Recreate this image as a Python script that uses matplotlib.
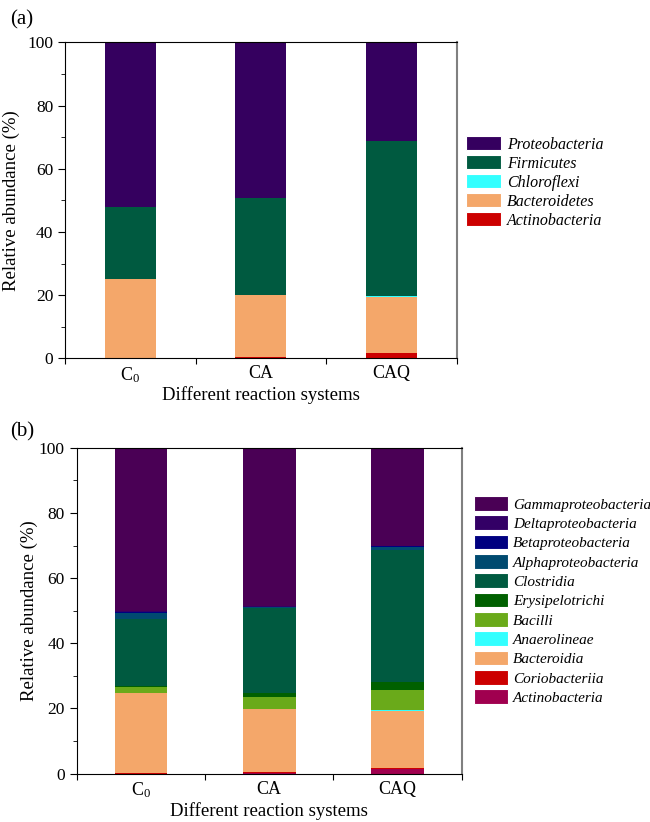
import matplotlib
matplotlib.use("Agg")
import matplotlib.pyplot as plt
from matplotlib.patches import Patch
import numpy as np

plt.rcParams['font.family'] = ['Liberation Serif', 'DejaVu Serif']
plt.rcParams['mathtext.fontset'] = 'custom'
plt.rcParams['mathtext.rm'] = 'Liberation Serif'
plt.rcParams['mathtext.it'] = 'Liberation Serif:italic'

systems = ["C$_0$", "CA", "CAQ"]

# Panel (a): phylum level (bottom -> top)
phyla = ["Actinobacteria", "Bacteroidetes", "Chloroflexi", "Firmicutes", "Proteobacteria"]
actinobacteria_a = [0.05, 0.5, 1.8]
bacteroidetes_a = [24.9, 19.5, 17.6]
chloroflexi_a = [0.05, 0.05, 0.2]
firmicutes_a = [22.8, 30.6, 49.2]
proteobacteria_a = [52.2, 49.35, 31.2]
phyla_colors = ["#CC0000", "#F4A76A", "#33FFFF", "#005A40", "#35005F"]

# Panel (b): class level (bottom -> top)
classes = ["Actinobacteria", "Coriobacteriia", "Bacteroidia", "Anaerolineae", "Bacilli",
           "Erysipelotrichi", "Clostridia", "Alphaproteobacteria", "Betaproteobacteria",
           "Deltaproteobacteria", "Gammaproteobacteria"]
actinobacteria_b = [0.05, 0.2, 1.3]
coriobacteriia_b = [0.05, 0.4, 0.4]
bacteroidia_b = [24.6, 19.2, 17.6]
anaerolineae_b = [0.05, 0.05, 0.2]
bacilli_b = [1.8, 3.7, 6.1]
erysipelotrichi_b = [0.2, 1.2, 2.6]
clostridia_b = [20.8, 26.0, 40.4]
alphaproteobacteria_b = [1.8, 0.4, 1.0]
betaproteobacteria_b = [0.2, 0.1, 0.1]
deltaproteobacteria_b = [0.3, 0.2, 0.3]
gammaproteobacteria_b = [50.15, 48.55, 30.0]
class_colors = ["#A0004F", "#CC0000", "#F4A76A", "#33FFFF", "#6AAA1A", "#006000",
                "#005A40", "#004A70", "#000080", "#330066", "#4A0055"]

series_a = [actinobacteria_a, bacteroidetes_a, chloroflexi_a, firmicutes_a, proteobacteria_a]
series_b = [actinobacteria_b, coriobacteriia_b, bacteroidia_b, anaerolineae_b, bacilli_b,
            erysipelotrichi_b, clostridia_b, alphaproteobacteria_b, betaproteobacteria_b,
            deltaproteobacteria_b, gammaproteobacteria_b]

fig = plt.figure(figsize=(6.5, 8.22), dpi=100)
ax_a = fig.add_axes([0.1, 0.5641, 0.6026, 0.3844])
ax_b = fig.add_axes([0.118, 0.0588, 0.5923, 0.3965])

def draw(ax, series, names, colors, width, fs_leg, leg_anchor, lab_x, hh, ls):
    x = np.arange(len(systems)) + 0.5
    bottom = np.zeros(len(systems))
    handles = []
    for vals, name, col in zip(series, names, colors):
        ax.bar(x, vals, width, bottom=bottom, color=col, edgecolor='none')
        bottom += np.array(vals)
        handles.append(Patch(facecolor=col, edgecolor='white', linewidth=0.8, label=name))
    ax.set_xlim(0, len(systems))
    ax.set_ylim(0, 100)
    ax.set_xticks(np.arange(len(systems) + 1))
    ax.set_xticklabels([])
    ax.set_xticks(x, minor=True)
    ax.set_xticklabels(systems, minor=True, fontsize=13)
    ax.tick_params(axis='x', which='minor', length=0, pad=5)
    ax.tick_params(axis='x', which='major', length=4, direction='out')
    ax.set_yticks(np.arange(0, 101, 20))
    ax.set_yticks(np.arange(10, 100, 20), minor=True)
    ax.tick_params(axis='y', which='major', length=5, labelsize=12.5)
    ax.tick_params(axis='y', which='minor', length=3)
    ax.spines['right'].set_color('#808080')
    ax.spines['right'].set_linewidth(1.5)
    ax.set_xlabel("Different reaction systems", fontsize=13.5, labelpad=1)
    ax.set_ylabel("Relative abundance (%)", fontsize=13.5)
    ax.yaxis.set_label_coords(lab_x, 0.5)
    leg = ax.legend(handles[::-1], names[::-1], loc='upper left', bbox_to_anchor=leg_anchor,
                    bbox_transform=fig.transFigure, frameon=False,
                    prop={'style': 'italic', 'size': fs_leg},
                    handlelength=2.2, handleheight=hh, labelspacing=ls,
                    handletextpad=0.35, borderaxespad=0, borderpad=0)
    return leg

draw(ax_a, series_a, phyla, phyla_colors, 0.39, 11.5, (466/650, 1 - 136/822), -0.115, 1.0, 0.15)
draw(ax_b, series_b, classes, class_colors, 0.41, 11, (474/650, 1 - 496/822), -0.1, 1.1, 0.25)

fig.text(10/650, 1 - 20/822, "(a)", fontsize=15, va='center', ha='left')
fig.text(10/650, 1 - 432/822, "(b)", fontsize=15, va='center', ha='left')

fig.savefig("out.png", dpi=100)
